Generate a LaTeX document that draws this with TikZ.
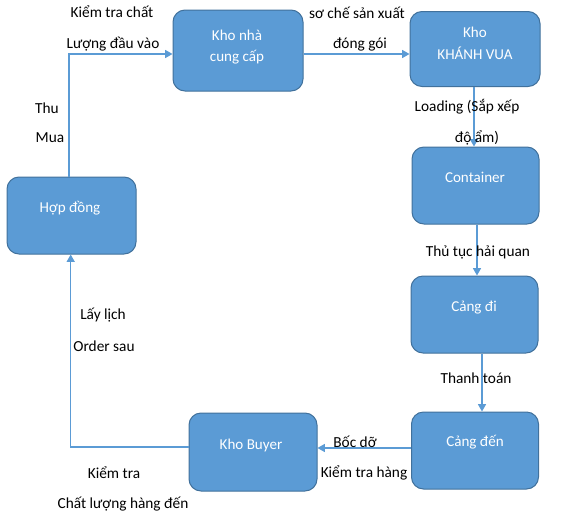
\documentclass[tikz,border=0pt]{standalone}
\usepackage{fontspec}
\setmainfont{Carlito}
\usetikzlibrary{arrows.meta,calc}
\definecolor{boxfill}{HTML}{5B9BD5}
\definecolor{boxline}{HTML}{41719C}
\definecolor{conn}{HTML}{5B9BD5}
\begin{document}
\begin{tikzpicture}[x=0.75pt,y=-0.75pt,
  procbox/.style={draw=boxline,fill=boxfill,line width=0.75pt,rounded corners=9pt,
    minimum width=#1*0.75pt,inner sep=0pt},
  procbox/.default=128,
  boxtext/.style={text=white,font=\fontsize{11.3}{13.5}\selectfont,align=center,inner sep=0pt},
  lbl/.style={text=black,font=\fontsize{11.5}{13.5}\selectfont,inner sep=0pt},
  conn/.style={draw=conn,line width=0.9pt,-{Triangle[width=6pt,length=5.5pt]}}]
\useasboundingbox (0,0) rectangle (575,529);
% boxes
\node[procbox=129,minimum height=57.75pt] (hd) at (71.5,215.5) {};
\node[procbox=130,minimum height=60.75pt] (kn) at (238,50.5) {};
\node[procbox=130,minimum height=56.25pt] (kv) at (475,49) {};
\node[procbox=127,minimum height=57.75pt] (ct) at (475.5,185.5) {};
\node[procbox=127,minimum height=57.75pt] (cd) at (474.5,314.5) {};
\node[procbox=127,minimum height=57.75pt] (cden) at (475,450.5) {};
\node[procbox=128,minimum height=58.5pt] (kb) at (253,452) {};
% box texts
\node[boxtext] (thd) at (70,208) {Hợp đồng};
\node[boxtext] (tkn1) at (237,35) {Kho nhà};
\node[boxtext] (tkn2) at (237,57) {cung cấp};
\node[boxtext] (tkv1) at (475,32) {Kho};
\node[boxtext] (tkv2) at (475,53) {KHÁNH VUA};
\node[boxtext] (tct) at (475,177) {Container};
\node[boxtext] (tcd) at (474,308) {Cảng đi};
\node[boxtext] (tcden) at (475,442) {Cảng đến};
\node[boxtext] (tkb) at (251,445) {Kho Buyer};
% connectors
\draw[conn] ($(hd.north)+(-2.5,0)$) |- ($(kn.west)+(0,3.5)$);
\draw[conn] ($(kn.east)+(0,3.5)$) -- ($(kv.west)+(0,5)$);
\draw[conn] ($(kv.south)+(-1,0)$) -- ($(ct.north)+(-1.5,0)$);
\draw[conn] ($(ct.south)+(1.5,0)$) -- ($(cd.north)+(2.5,0)$);
\draw[conn] ($(cd.south)+(7.5,0)$) -- ($(cden.north)+(7,0)$);
\draw[conn] ($(cden.west)+(0,-2.5)$) -- ($(kb.east)+(0,-4)$);
\draw[conn] ($(kb.west)+(0,-5)$) -| ($(hd.south)+(-0.8,0)$);
% labels
\node[lbl] (l1) at (112,12) {Kiểm tra chất};
\node[lbl] (l2) at (113,44) {Lượng đầu vào};
\node[lbl] (l3) at (47,108) {Thu};
\node[lbl] (l4) at (50,138) {Mua};
\node[lbl] (l5) at (357,13) {sơ chế sản xuất};
\node[lbl] (l6) at (360,44) {đóng gói};
\node[lbl] (l7) at (467,107) {Loading (Sắp xếp};
\node[lbl] (l8) at (477,138) {độ ẩm)};
\node[lbl] (l9) at (478,252) {Thủ tục hải quan};
\node[lbl] (l10) at (476,378) {Thanh toán};
\node[lbl] (l11) at (355,442) {Bốc dỡ};
\node[lbl] (l12) at (364,473) {Kiểm tra hàng};
\node[lbl] (l13) at (103,315) {Lấy lịch};
\node[lbl] (l14) at (104,346) {Order sau};
\node[lbl] (l15) at (114,473) {Kiểm tra};
\node[lbl] (l16) at (123,504) {Chất lượng hàng đến};
\end{tikzpicture}
\end{document}
